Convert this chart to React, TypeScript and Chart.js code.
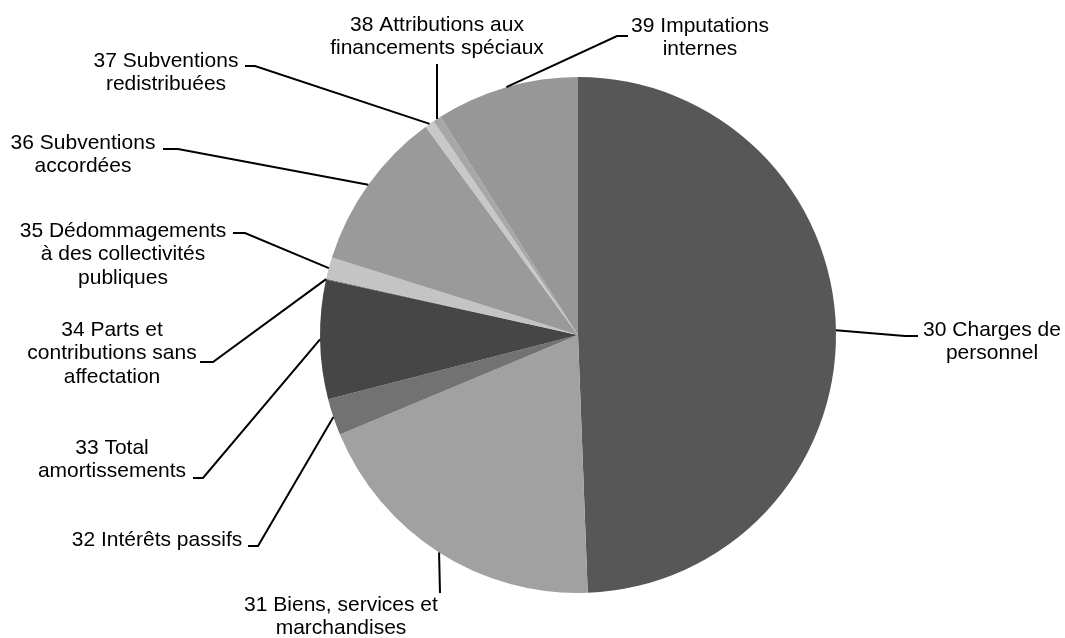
import React, { useEffect, useRef } from "react";
import { Chart, registerables } from "chart.js";

Chart.register(...registerables);

// ---- data ----
const categories: string[][] = [
  ["30 Charges de", "personnel"],
  ["31 Biens, services et", "marchandises"],
  ["32 Intérêts passifs"],
  ["33 Total", "amortissements"],
  ["34 Parts et", "contributions sans", "affectation"],
  ["35 Dédommagements", "à des collectivités", "publiques"],
  ["36 Subventions", "accordées"],
  ["37 Subventions", "redistribuées"],
  ["38 Attributions aux", "financements spéciaux"],
  ["39 Imputations", "internes"],
];

const shares: number[] = [49.4, 19.3, 2.3, 7.45, 0.05, 1.35, 10.1, 0.6, 0.5, 8.95];

const sliceColors: string[] = [
  "#575757",
  "#a1a1a1",
  "#727272",
  "#464646",
  "#5e5e5e",
  "#c4c4c4",
  "#9a9a9a",
  "#c8c8c8",
  "#a7a7a7",
  "#979797",
];

// ---- label layout (offsets from pie centre, px) ----
type LabelLayout = { tx: number; ty: number; leader: [number, number][] };
const LABEL_LAYOUT: LabelLayout[] = [
  { tx: 414, ty: -5, leader: [[327, 1], [340, 1]] },
  { tx: -237, ty: 270, leader: [[-138, 258]] },
  { tx: -421, ty: 205, leader: [[-320, 211], [-330, 211]] },
  { tx: -466, ty: 113, leader: [[-375, 143], [-385, 143]] },
  { tx: -466, ty: -5, leader: [[-365, 27], [-378, 27]] },
  { tx: -455, ty: -104, leader: [[-333, -102], [-345, -102]] },
  { tx: -495, ty: -192, leader: [[-400, -186], [-415, -186]] },
  { tx: -412, ty: -274, leader: [[-323, -269], [-333, -269]] },
  { tx: -141, ty: -310, leader: [[-141, -271]] },
  { tx: 122, ty: -309, leader: [[39, -299], [50, -299]] },
];

const FONT = '21px "Liberation Sans", Arial, sans-serif';
const LINE_H = 23.5;

const labelPlugin = {
  id: "leaderLabels",
  afterDatasetsDraw(chart: any) {
    const ctx = chart.ctx as CanvasRenderingContext2D;
    const meta = chart.getDatasetMeta(0);
    ctx.save();
    meta.data.forEach((arc: any, i: number) => {
      const lay = LABEL_LAYOUT[i];
      if (!lay) return;
      const { x, y, startAngle, endAngle, outerRadius } = arc.getProps(
        ["x", "y", "startAngle", "endAngle", "outerRadius"],
        true
      );
      const mid = (startAngle + endAngle) / 2;
      const sx = x + Math.cos(mid) * outerRadius;
      const sy = y + Math.sin(mid) * outerRadius;
      ctx.strokeStyle = "#000";
      ctx.lineWidth = 2;
      ctx.beginPath();
      ctx.moveTo(sx, sy);
      lay.leader.forEach(([dx, dy]) => ctx.lineTo(x + dx, y + dy));
      ctx.stroke();

      ctx.fillStyle = "#000";
      ctx.font = FONT;
      ctx.textAlign = "center";
      ctx.textBaseline = "middle";
      const lines = categories[i];
      lines.forEach((ln, k) => {
        ctx.fillText(ln, x + lay.tx, y + lay.ty + k * LINE_H);
      });
    });
    ctx.restore();
  },
};

export default function App() {
  const ref = useRef<HTMLCanvasElement | null>(null);

  useEffect(() => {
    if (!ref.current) return;
    const chart = new Chart(ref.current, {
      type: "pie",
      data: {
        labels: categories.map((c) => c.join(" ")),
        datasets: [
          {
            data: shares,
            backgroundColor: sliceColors,
            borderWidth: 0,
          },
        ],
      },
      options: {
        responsive: false,
        animation: false,
        layout: {
          padding: { top: 77, bottom: 45, left: 320, right: 229 },
        },
        plugins: {
          legend: { display: false },
          tooltip: { enabled: false },
          title: { display: false },
        },
      },
      plugins: [labelPlugin],
    });
    return () => chart.destroy();
  }, []);

  return (
    <div
      style={{
        position: "fixed",
        left: 0,
        top: 0,
        width: 1065,
        height: 638,
        background: "#fff",
      }}
    >
      <canvas ref={ref} width={1065} height={638} />
    </div>
  );
}
